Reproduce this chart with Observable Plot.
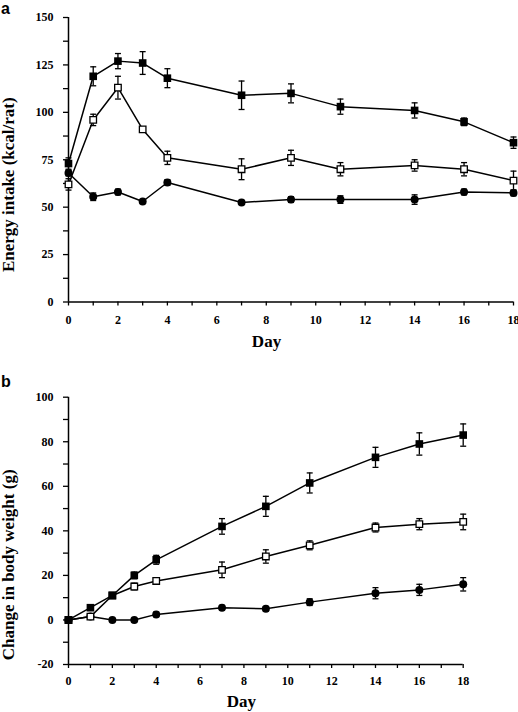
<!DOCTYPE html>
<html>
<head>
<meta charset="utf-8">
<script src="https://cdn.jsdelivr.net/npm/d3@7"></script>
<script src="https://cdn.jsdelivr.net/npm/@observablehq/plot@0.6"></script>
<style>
  html, body { margin: 0; padding: 0; background: white; }
  #root { position: relative; width: 518px; height: 712px; overflow: hidden; background: white; }
  .panel { position: absolute; left: 0; }
  .letter { position: absolute; left: 1px; font-family: "Liberation Sans", Arial, sans-serif; font-weight: bold; font-size: 16px; line-height: 18px; color: black; }
</style>
</head>
<body>
<div id="root">
  <div class="panel" id="pa" style="top:0px"></div>
  <div class="panel" id="pb" style="top:360px"></div>
  <div class="letter" style="top:0px">a</div>
  <div class="letter" style="top:373px">b</div>
</div>
<script>
// ---------- data ----------
const days = [0, 1, 2, 3, 4, 7, 9, 11, 14, 16, 18];

// Panel a: energy intake (kcal/rat)
const intakeFilledSquare    = [73, 119, 127, 126, 118, 109, 110, 103, 101, 95, 84];
const intakeFilledSquareErr = [3, 5, 4, 6, 5, 7.5, 5, 4, 4, 2, 3];
const intakeOpenSquare      = [62, 96, 113, 91, 76, 70, 76, 70, 72, 70, 64];
const intakeOpenSquareErr   = [3, 3, 6, 0, 3.5, 5.5, 4, 3.5, 3, 3.5, 5];
const intakeCircle          = [68, 55.5, 58, 53, 63, 52.5, 54, 54, 54, 58, 57.5];
const intakeCircleErr       = [1.5, 2, 1.5, 1, 1.5, 1, 1.5, 2, 2.5, 1.5, 1.5];

// Panel b: change in body weight (g)
const weightFilledSquare    = [0, 5.5, 11, 20, 27, 42, 51, 61.5, 73, 79, 83];
const weightFilledSquareErr = [0, 1, 1, 1.5, 2, 3.5, 4.5, 4.5, 4.5, 5, 5];
const weightOpenSquare      = [0, 1.5, 11, 15, 17.5, 22.5, 28.5, 33.5, 41.5, 43, 44];
const weightOpenSquareErr   = [0, 1, 1, 1.5, 1.5, 3.5, 3, 2, 2, 2.5, 3.5];
const weightCircle          = [0, 1.5, 0, 0, 2.5, 5.5, 5, 8, 12, 13.5, 16];
const weightCircleErr       = [0, 0.5, 0.5, 0.5, 1, 1, 1, 1.5, 2.5, 2.5, 3];

const dayTicks = d3.range(0, 19);
const intakeTicks = d3.range(0, 150.1, 12.5);
const weightTicks = d3.range(-20, 100.1, 10);

const labelA = "Energy intake (kcal/rat)";
const labelB = "Change in body weight (g)";
const xLabel = "Day";

// ---------- helpers ----------
function series(values, errs, kind) {
  return days.map((d, i) => ({day: d, v: values[i], e: errs[i], kind}));
}
const capSymbol = {
  draw(context) { context.moveTo(-3, 0); context.lineTo(3, 0); }
};

function panelMarks(sets) {
  const marks = [];
  for (const s of sets) marks.push(Plot.line(s, {x: "day", y: "v", stroke: "black", strokeWidth: 1.5}));
  for (const s of sets) {
    const withErr = s.filter(d => d.e > 0);
    marks.push(Plot.ruleX(withErr, {x: "day", y1: d => d.v - d.e, y2: d => d.v + d.e, stroke: "black", strokeWidth: 1.3}));
    marks.push(Plot.dot(withErr, {x: "day", y: d => d.v + d.e, symbol: capSymbol, r: 3, stroke: "black", fill: "none", strokeWidth: 1.3}));
    marks.push(Plot.dot(withErr, {x: "day", y: d => d.v - d.e, symbol: capSymbol, r: 3, stroke: "black", fill: "none", strokeWidth: 1.3}));
  }
  for (const s of sets) {
    const k = s[0].kind;
    if (k === "filled") marks.push(Plot.dot(s, {x: "day", y: "v", symbol: "square", r: 4.3, fill: "black", stroke: "none"}));
    if (k === "open") marks.push(Plot.dot(s, {x: "day", y: "v", symbol: "square", r: 3.7, fill: "white", stroke: "black", strokeWidth: 1.3}));
    if (k === "circle") marks.push(Plot.dot(s, {x: "day", y: "v", symbol: "circle", r: 4, fill: "black", stroke: "none"}));
  }
  return marks;
}

const serif = "Liberation Serif, Times New Roman, serif";
const baseStyle = {fontFamily: serif, fontWeight: "bold", fontSize: "12px", color: "black", background: "white"};

// ---------- panel a ----------
const setsA = [
  series(intakeCircle, intakeCircleErr, "circle"),
  series(intakeOpenSquare, intakeOpenSquareErr, "open"),
  series(intakeFilledSquare, intakeFilledSquareErr, "filled")
];
const plotA = Plot.plot({
  width: 518, height: 360,
  marginLeft: 68, marginRight: 5, marginTop: 17, marginBottom: 58.5,
  style: baseStyle,
  x: {domain: [0, 18]},
  y: {domain: [0, 150]},
  marks: [
    Plot.axisX({ticks: dayTicks, tickSize: 4, tickPadding: 9.5, strokeWidth: 1.3, tickFormat: d => d % 2 === 0 ? String(d) : "", label: null, fontSize: 12, fontFamily: serif, fontWeight: "bold"}),
    Plot.axisY({ticks: intakeTicks, tickSize: 5, tickPadding: 10, strokeWidth: 1.3, tickFormat: d => d % 25 === 0 ? String(d) : "", label: null, fontSize: 12, fontFamily: serif, fontWeight: "bold"}),
    Plot.ruleX([0], {stroke: "black", strokeWidth: 1.5}),
    Plot.ruleY([0], {stroke: "black", strokeWidth: 1.5}),
    Plot.text([xLabel], {frameAnchor: "bottom", textAnchor: "middle", lineAnchor: "middle", dx: -24.5, dy: 39.5, fontSize: 17, fontWeight: "bold", fontFamily: serif}),
    Plot.text([labelA], {frameAnchor: "left", textAnchor: "middle", lineAnchor: "middle", rotate: -90, dx: -60, dy: 25, fontSize: 17, fontWeight: "bold", fontFamily: serif}),
    ...panelMarks(setsA)
  ]
});
document.getElementById("pa").appendChild(plotA);

// ---------- panel b ----------
const setsB = [
  series(weightCircle, weightCircleErr, "circle"),
  series(weightOpenSquare, weightOpenSquareErr, "open"),
  series(weightFilledSquare, weightFilledSquareErr, "filled")
];
const plotB = Plot.plot({
  width: 518, height: 352,
  marginLeft: 68, marginRight: 55.3, marginTop: 36.7, marginBottom: 48,
  style: baseStyle,
  x: {domain: [0, 18]},
  y: {domain: [-20, 100]},
  marks: [
    Plot.axisX({ticks: dayTicks, tickSize: 4, tickPadding: 8, strokeWidth: 1.3, tickFormat: d => d % 2 === 0 ? String(d) : "", label: null, fontSize: 12, fontFamily: serif, fontWeight: "bold"}),
    Plot.axisY({ticks: weightTicks, tickSize: 5, tickPadding: 10, strokeWidth: 1.3, tickFormat: d => d % 20 === 0 ? String(d) : "", label: null, fontSize: 12, fontFamily: serif, fontWeight: "bold"}),
    Plot.ruleX([0], {stroke: "black", strokeWidth: 1.5}),
    Plot.ruleY([-20], {stroke: "black", strokeWidth: 1.5}),
    Plot.text([xLabel], {frameAnchor: "bottom", textAnchor: "middle", lineAnchor: "middle", dx: -24.5, dy: 37, fontSize: 17, fontWeight: "bold", fontFamily: serif}),
    Plot.text([labelB], {frameAnchor: "left", textAnchor: "middle", lineAnchor: "middle", rotate: -90, dx: -60, dy: 34, fontSize: 17, fontWeight: "bold", fontFamily: serif}),
    ...panelMarks(setsB)
  ]
});
document.getElementById("pb").appendChild(plotB);
</script>
</body>
</html>
